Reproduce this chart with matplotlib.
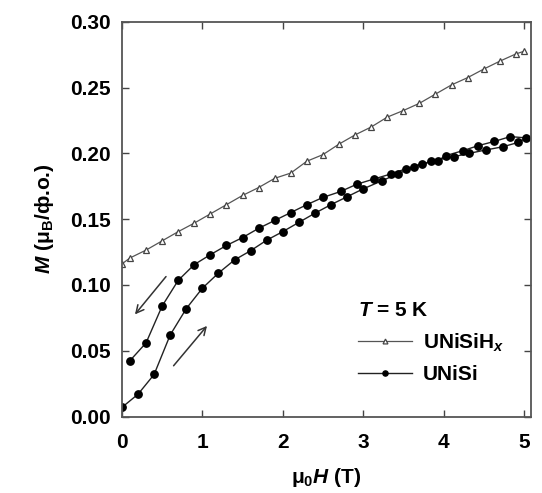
import numpy as np
import matplotlib.pyplot as plt

plt.rcParams['font.family'] = ['Liberation Sans', 'DejaVu Sans']
plt.rcParams['font.weight'] = 'bold'
plt.rcParams['axes.labelweight'] = 'bold'
plt.rcParams['mathtext.fontset'] = 'custom'
plt.rcParams['mathtext.it'] = 'Liberation Sans:italic:bold'
plt.rcParams['mathtext.rm'] = 'Liberation Sans:bold'
plt.rcParams['mathtext.bf'] = 'Liberation Sans:bold'

# UNiSiHx, поле (T) и момент (muB/ф.о.)
h_hyd = [0, 0.1, 0.3, 0.5, 0.7, 0.9, 1.1, 1.3, 1.5, 1.7, 1.9, 2.1, 2.3, 2.5, 2.7,
         2.9, 3.1, 3.3, 3.5, 3.7, 3.9, 4.1, 4.3, 4.5, 4.7, 4.9, 5.0]
m_hyd = [0.116, 0.1205, 0.1265, 0.1335, 0.1405, 0.147, 0.154, 0.161, 0.168, 0.174,
         0.181, 0.185, 0.194, 0.199, 0.207, 0.214, 0.220, 0.2275, 0.2325, 0.238,
         0.245, 0.252, 0.2575, 0.264, 0.270, 0.2755, 0.2775]

# UNiSi, рост поля
h_up = [0, 0.2, 0.4, 0.6, 0.8, 1.0, 1.2, 1.4, 1.6, 1.8, 2.0, 2.2, 2.4, 2.6, 2.8,
        3.0, 3.24, 3.43, 3.63, 3.84, 4.13, 4.32, 4.53, 4.74, 4.93, 5.03]
m_up = [0.007, 0.017, 0.032, 0.062, 0.082, 0.0975, 0.109, 0.119, 0.126, 0.134,
        0.1405, 0.1475, 0.1545, 0.161, 0.167, 0.173, 0.1793, 0.1844, 0.1894, 0.194,
        0.1975, 0.200, 0.2026, 0.205, 0.2083, 0.2117]

# UNiSi, уменьшение поля
h_down = [4.83, 4.63, 4.43, 4.24, 4.03, 3.93, 3.73, 3.53, 3.35, 3.14, 2.92, 2.72,
          2.5, 2.3, 2.1, 1.9, 1.7, 1.5, 1.3, 1.1, 0.9, 0.7, 0.5, 0.3, 0.1]
m_down = [0.2127, 0.209, 0.2058, 0.202, 0.1983, 0.1945, 0.192, 0.1882, 0.1844,
          0.1806, 0.1765, 0.171, 0.1665, 0.161, 0.155, 0.149, 0.143, 0.136, 0.130,
          0.123, 0.1155, 0.1035, 0.084, 0.056, 0.0425]

# стрелки направления развертки
arrow_down = [(0.57, 0.108), (0.14, 0.076)]
arrow_up = [(0.62, 0.037), (1.08, 0.0705)]

fig = plt.figure(figsize=(5.42, 4.93), dpi=100)
ax = fig.add_axes([0.225, 0.155, 0.755, 0.801])

ax.plot(h_hyd, m_hyd, '-', color='#555555', lw=0.9, marker='^', ms=5,
        mfc='white', mec='#444444', mew=0.9, label=r'UNiSiH$_x$')
ax.plot(h_up + h_down, m_up + m_down, '-', color='#222222', lw=1.0, marker='o',
        ms=5.3, mfc='black', mec='black', label='UNiSi')

for a in (arrow_down, arrow_up):
    ax.annotate('', xy=a[1], xytext=a[0],
                arrowprops=dict(arrowstyle='->,head_length=0.55,head_width=0.28',
                                lw=1.1, color='#333333'))

ax.set_xlim(0, 5.09)
ax.set_ylim(0, 0.30)
ax.set_xticks([0, 1, 2, 3, 4, 5])
ax.set_yticks([0, 0.05, 0.10, 0.15, 0.20, 0.25, 0.30])
ax.set_yticklabels(['0.00', '0.05', '0.10', '0.15', '0.20', '0.25', '0.30'])
ax.tick_params(direction='in', length=5, width=1, top=True, right=True,
               labelsize=15, color='#444444')
ax.tick_params(axis='y', pad=8)
ax.tick_params(axis='x', pad=12)
for s in ax.spines.values():
    s.set_color('#555555')
    s.set_linewidth(1.3)

ax.set_xlabel(r'μ$_0$$H$ (T)', fontsize=15, labelpad=10)
ax.set_ylabel(r'$M$ (μ$_\mathrm{B}$/ф.о.)', fontsize=15, labelpad=10)

leg = ax.legend(loc='upper left', bbox_to_anchor=(2.93, 0.088),
                bbox_transform=ax.transData, frameon=False, fontsize=15,
                title=r'$T$ = 5 K', title_fontsize=15, alignment='left',
                handlelength=2.6, handletextpad=0.55, labelspacing=0.55,
                markerscale=0.7, borderpad=0, borderaxespad=0)

fig.savefig('out.png', dpi=100)
